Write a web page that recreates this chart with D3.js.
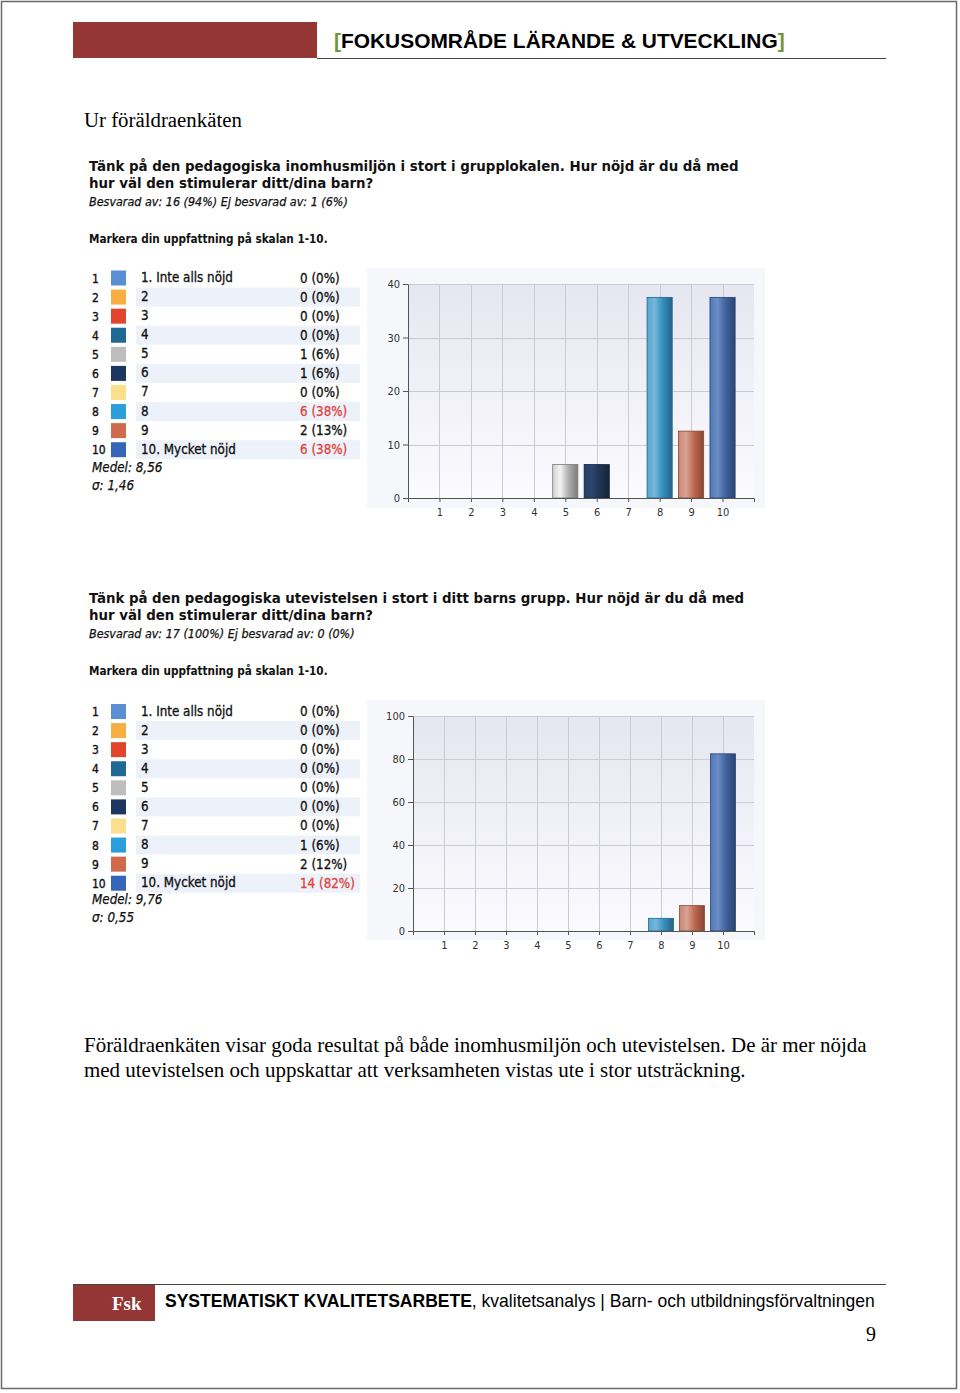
<!DOCTYPE html>
<html><head><meta charset="utf-8">
<script src="https://cdn.jsdelivr.net/npm/d3@7"></script>
<style>body{margin:0;background:#fff} svg{display:block}</style>
</head><body><svg id="page" width="960" height="1393"></svg>
<script>
// ---------- data ----------
const categories = ["1","2","3","4","5","6","7","8","9","10"];
const optionLabels = ["1. Inte alls nöjd","2","3","4","5","6","7","8","9","10. Mycket nöjd"];
const swatchColors = ["#5a8fd4","#f7ae42","#e2452b","#1f6a95","#bdbdbd","#1b365f","#fae08c","#2a9fdc","#cf6b4c","#3566b8"];

const q1Title = ["Tänk på den pedagogiska inomhusmiljön i stort i grupplokalen. Hur nöjd är du då med","hur väl den stimulerar ditt/dina barn?"];
const q1Answered = "Besvarad av: 16 (94%) Ej besvarad av: 1 (6%)";
const q1Counts = [0,0,0,0,1,1,0,6,2,6];
const q1Percents = [0,0,0,0,6,6,0,38,13,38];
const q1BarValues = [0,0,0,0,6.25,6.25,0,37.5,12.5,37.5];
const q1Ticks = [0,10,20,30,40];
const q1Stats = ["8,56","1,46"];

const q2Title = ["Tänk på den pedagogiska utevistelsen i stort i ditt barns grupp. Hur nöjd är du då med","hur väl den stimulerar ditt/dina barn?"];
const q2Answered = "Besvarad av: 17 (100%) Ej besvarad av: 0 (0%)";
const q2Counts = [0,0,0,0,0,0,0,1,2,14];
const q2Percents = [0,0,0,0,0,0,0,6,12,82];
const q2BarValues = [0,0,0,0,0,0,0,5.9,11.8,82.4];
const q2Ticks = [0,20,40,60,80,100];
const q2Stats = ["9,76","0,55"];

const instruction = "Markera din uppfattning på skalan 1-10.";
const headerTitle = "FOKUSOMRÅDE LÄRANDE & UTVECKLING";
const introText = "Ur föräldraenkäten";
const bodyLines = ["Föräldraenkäten visar goda resultat på både inomhusmiljön och utevistelsen. De är mer nöjda",
                   "med utevistelsen och uppskattar att verksamheten vistas ute i stor utsträckning."];
const footerBold = "SYSTEMATISKT KVALITETSARBETE";
const footerRest = ", kvalitetsanalys | Barn- och utbildningsförvaltningen";
const pageNumber = "9";

// ---------- helpers ----------
const svg = d3.select("#page");
const defs = svg.append("defs");
function fit(sel, target){
  const n = sel.node(); const fs = parseFloat(sel.attr("font-size"));
  const w = n.getComputedTextLength(); const nf = fs*target/w;
  sel.attr("font-size", nf); return nf;
}
const SERIF = "'Liberation Serif','Times New Roman',serif";
const ARIAL = "'Liberation Sans',Arial,sans-serif";
const TAHOMA = "'DejaVu Sans Condensed','DejaVu Sans',sans-serif";

// page border
svg.append("rect").attr("x",1.5).attr("y",1.5).attr("width",955).attr("height",1387)
  .attr("fill","none").attr("stroke","#6a6a6a").attr("stroke-width",1.5);

// header
svg.append("rect").attr("x",73).attr("y",22).attr("width",244).attr("height",36).attr("fill","#943634");
svg.append("line").attr("x1",317).attr("x2",886).attr("y1",58.5).attr("y2",58.5).attr("stroke","#444").attr("stroke-width",1);
const ht = svg.append("text").attr("x",334).attr("y",48).attr("font-family",ARIAL).attr("font-weight","bold").attr("font-size",20);
ht.append("tspan").attr("fill","#76923c").text("[");
ht.append("tspan").attr("fill","#000").text(headerTitle);
ht.append("tspan").attr("fill","#76923c").text("]");
fit(ht, 451);

// intro
fit(svg.append("text").attr("x",84).attr("y",127).attr("font-family",SERIF).attr("font-size",19).attr("fill","#000").text(introText),158);

// body
const b1 = svg.append("text").attr("x",84).attr("y",1052).attr("font-family",SERIF).attr("font-size",19).attr("fill","#000").text(bodyLines[0]);
const bfs = fit(b1, 783);
svg.append("text").attr("x",84).attr("y",1077).attr("font-family",SERIF).attr("font-size",bfs).attr("fill","#000").text(bodyLines[1]);

// footer
svg.append("line").attr("x1",73).attr("x2",886).attr("y1",1284.5).attr("y2",1284.5).attr("stroke","#444").attr("stroke-width",1);
svg.append("rect").attr("x",73).attr("y",1285).attr("width",82).attr("height",36).attr("fill","#943634");
svg.append("text").attr("x",112).attr("y",1310).attr("font-family",SERIF).attr("font-weight","bold").attr("font-size",19).attr("fill","#fff").text("Fsk");
const ft = svg.append("text").attr("x",165).attr("y",1307).attr("font-family",ARIAL).attr("font-size",16).attr("fill","#000");
ft.append("tspan").attr("font-weight","bold").text(footerBold);
ft.append("tspan").text(footerRest);
fit(ft, 710);
svg.append("text").attr("x",866).attr("y",1341).attr("font-family",SERIF).attr("font-size",20).attr("fill","#000").text(pageNumber);

// bar gradients
swatchColors.forEach((c,i)=>{
  const g = defs.append("linearGradient").attr("id","bar"+i).attr("x1","0").attr("x2","1").attr("y1","0").attr("y2","0");
  const base = d3.hsl(c); base.s = base.s*0.78;
  [[0,base.brighter(0.3)],[0.3,base.brighter(0.7)],[0.62,base.darker(0.2)],[1,base.darker(1.2)]].forEach(([o,col])=>
    g.append("stop").attr("offset",o).attr("stop-color",d3.color(col).formatHex()));
});
const pg = defs.append("linearGradient").attr("id","plotbg").attr("x1",0).attr("x2",0).attr("y1",0).attr("y2",1);
pg.append("stop").attr("offset",0).attr("stop-color","#e6e6f1");
pg.append("stop").attr("offset",1).attr("stop-color","#fbfbfe");

// ---------- survey block ----------
function drawSurvey(cfg){
  const g = svg.append("g");
  // titles
  const t1 = g.append("text").attr("x",89).attr("y",cfg.titleY).attr("font-family",TAHOMA).attr("font-weight","bold").attr("font-size",14).attr("fill","#111").text(cfg.title[0]);
  const tfs = fit(t1, cfg.titleW);
  g.append("text").attr("x",89).attr("y",cfg.titleY+17).attr("font-family",TAHOMA).attr("font-weight","bold").attr("font-size",tfs).attr("fill","#111").text(cfg.title[1]);
  fit(g.append("text").attr("x",89).attr("y",cfg.titleY+35).attr("font-family",TAHOMA).attr("font-style","italic").attr("font-size",12).attr("fill","#111").attr("stroke","#111").attr("stroke-width",0.25).text(cfg.answered), cfg.answeredW);
  fit(g.append("text").attr("x",89).attr("y",cfg.titleY+72).attr("font-family",TAHOMA).attr("font-weight","bold").attr("font-size",12).attr("fill","#111").text(instruction), 239);

  // table
  const rowY = d3.scaleLinear().domain([0,9]).range([cfg.row0, cfg.row0 + 9*19.08]);
  const rows = g.selectAll("g.row").data(categories).join("g").attr("class","row")
    .attr("transform",(d,i)=>`translate(0,${rowY(i)})`);
  rows.filter((d,i)=>i%2===1).append("rect").attr("x",136).attr("y",-9.5).attr("width",224).attr("height",19).attr("fill","#edf2fa");
  rows.append("text").attr("x",92).attr("y",4.5).attr("font-family",TAHOMA).attr("font-size",12).attr("fill","#111").attr("stroke","#111").attr("stroke-width",0.35).text(d=>d);
  rows.append("rect").attr("x",111).attr("y",-7.5).attr("width",15).attr("height",15).attr("fill",(d,i)=>swatchColors[i]);
  const lab = rows.append("text").attr("x",141).attr("y",4).attr("font-family",TAHOMA).attr("font-size",12).attr("fill","#111").attr("stroke","#111").attr("stroke-width",0.3).text((d,i)=>optionLabels[i]);
  const lfs = fit(d3.select(lab.nodes()[0]), 92);
  lab.attr("font-size",lfs);
  const maxC = d3.max(cfg.counts);
  rows.append("text").attr("x",300).attr("y",4.5).attr("font-family",TAHOMA).attr("font-size",lfs)
    .attr("fill",(d,i)=>cfg.counts[i]===maxC?"#e0443a":"#111")
    .attr("stroke",(d,i)=>cfg.counts[i]===maxC?"#e0443a":"#111").attr("stroke-width",0.3)
    .text((d,i)=>`${cfg.counts[i]} (${cfg.percents[i]}%)`);
  g.append("text").attr("x",92).attr("y",cfg.meanY).attr("font-family",TAHOMA).attr("font-style","italic").attr("font-size",lfs).attr("fill","#111").attr("stroke","#111").attr("stroke-width",0.25).text("Medel: "+cfg.stats[0]);
  g.append("text").attr("x",92).attr("y",cfg.meanY+18).attr("font-family",TAHOMA).attr("font-style","italic").attr("font-size",lfs).attr("fill","#111").attr("stroke","#111").attr("stroke-width",0.25).text("σ: "+cfg.stats[1]);

  // chart panel
  const P = cfg.panel, A = cfg.plot;
  g.append("rect").attr("x",P.x).attr("y",P.y).attr("width",P.w).attr("height",P.h).attr("fill","#f5f7fb");
  g.append("rect").attr("x",A.l).attr("y",A.t).attr("width",A.r-A.l).attr("height",A.b-A.t).attr("fill","url(#plotbg)");
  const x = d3.scaleLinear().domain([0,11]).range([A.l,A.r]);
  const y = d3.scaleLinear().domain([0,d3.max(cfg.ticks)]).range([A.b,A.t]);
  // grid
  g.append("g").selectAll("line").data(cfg.ticks.slice(1)).join("line")
    .attr("x1",A.l).attr("x2",A.r).attr("y1",d=>Math.round(y(d))+0.5).attr("y2",d=>Math.round(y(d))+0.5)
    .attr("stroke","#cbcbd6").attr("stroke-width",1);
  g.append("g").selectAll("line").data(d3.range(1,11)).join("line")
    .attr("x1",d=>Math.round(x(d))+0.5).attr("x2",d=>Math.round(x(d))+0.5).attr("y1",A.t).attr("y2",A.b)
    .attr("stroke","#cbcbd6").attr("stroke-width",1);
  // bars
  const bw = (x(1)-x(0))*0.8;
  g.append("g").selectAll("rect").data(cfg.values.map((v,i)=>({v,i})).filter(d=>d.v>0)).join("rect")
    .attr("x",d=>x(d.i+1)-bw/2).attr("width",bw)
    .attr("y",d=>y(d.v)).attr("height",d=>A.b-y(d.v))
    .attr("fill",d=>`url(#bar${d.i})`)
    .attr("stroke",d=>d3.color(swatchColors[d.i]).darker(1.2).formatHex()).attr("stroke-width",0.8);
  // axes
  const ax = g.append("g").attr("transform",`translate(0,${A.b})`)
    .call(d3.axisBottom(x).tickValues(d3.range(1,11)).tickFormat(d=>categories[d-1]).tickSize(4).tickSizeOuter(4));
  const ay = g.append("g").attr("transform",`translate(${A.l},0)`)
    .call(d3.axisLeft(y).tickValues(cfg.ticks).tickSize(5).tickSizeOuter(0).tickPadding(3));
  [ax,ay].forEach(a=>{
    a.selectAll("path,line").attr("stroke","#555");
    a.selectAll("text").attr("font-family",TAHOMA).attr("font-size",11).attr("fill","#333");
  });
  ax.selectAll("text").attr("dy","1.0em");
}

drawSurvey({title:q1Title, titleY:171, titleW:650, answered:q1Answered, answeredW:259,
  counts:q1Counts, percents:q1Percents, values:q1BarValues, ticks:q1Ticks, stats:q1Stats,
  row0:278, meanY:472,
  panel:{x:367,y:268,w:398,h:240}, plot:{l:408,r:754,t:284,b:498}});
drawSurvey({title:q2Title, titleY:603, titleW:656, answered:q2Answered, answeredW:266,
  counts:q2Counts, percents:q2Percents, values:q2BarValues, ticks:q2Ticks, stats:q2Stats,
  row0:711.5, meanY:904,
  panel:{x:367,y:700,w:398,h:240}, plot:{l:413,r:754,t:716,b:931}});
</script></body></html>
